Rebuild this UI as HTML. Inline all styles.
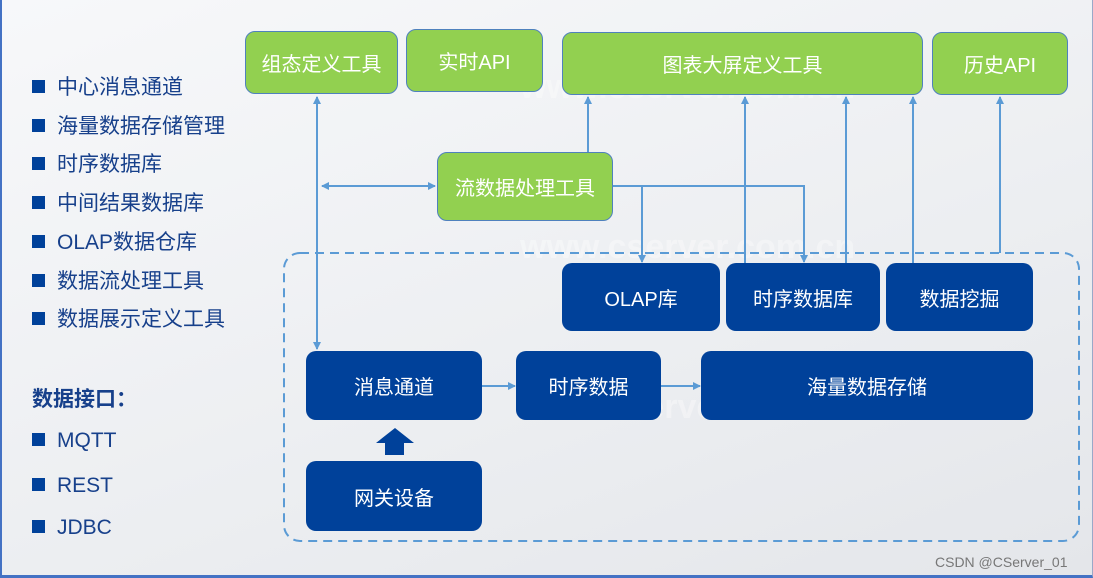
<!DOCTYPE html>
<html><head><meta charset="utf-8"><style>
*{margin:0;padding:0;box-sizing:border-box}
body{width:1093px;height:578px;overflow:hidden;position:relative;font-family:"Liberation Sans","Noto Sans CJK SC",sans-serif;background:linear-gradient(160deg,#f7f8fa 0%,#eceef1 60%,#e4e6ea 100%)}
.frame{position:absolute;left:0;top:0;width:1093px;height:578px;border-left:2px solid #4472c4;border-bottom:3px solid #4472c4;border-right:1px solid #9aa8c8}
.g{position:absolute;background:#92d050;border:1px solid #4f81bd;border-radius:10px;color:#fff;font-size:20px;display:flex;align-items:center;justify-content:center}
.b{position:absolute;background:#00419a;border-radius:10px;color:#fff;font-size:20px;display:flex;align-items:center;justify-content:center}
.li{position:absolute;left:32px;color:#17408b;font-size:21px;line-height:24px}
.li i{display:inline-block;width:13px;height:13px;background:#00419a;margin-right:12px;vertical-align:1px}
.wm{position:absolute;color:rgba(255,255,255,.35);font-weight:bold;font-size:34px;white-space:nowrap}
</style></head><body>
<div class="frame"></div>
<div class="wm" style="left:520px;top:68px">www.cserver.com.cn</div>
<div class="wm" style="left:520px;top:228px">www.cserver.com.cn</div>
<div class="wm" style="left:520px;top:388px">www.cserver.com.cn</div>

<div class="li" style="top:76px"><i></i>中心消息通道</div>
<div class="li" style="top:115px"><i></i>海量数据存储管理</div>
<div class="li" style="top:153px"><i></i>时序数据库</div>
<div class="li" style="top:192px"><i></i>中间结果数据库</div>
<div class="li" style="top:231px"><i></i>OLAP数据仓库</div>
<div class="li" style="top:270px"><i></i>数据流处理工具</div>
<div class="li" style="top:308px"><i></i>数据展示定义工具</div>
<div class="li" style="top:388px;font-weight:bold">数据接口：</div>
<div class="li" style="top:429px"><i></i>MQTT</div>
<div class="li" style="top:474px"><i></i>REST</div>
<div class="li" style="top:516px"><i></i>JDBC</div>

<svg style="position:absolute;left:0;top:0" width="1093" height="578">
<defs><marker id="a" markerWidth="8" markerHeight="8" refX="7" refY="4" orient="auto" markerUnits="userSpaceOnUse"><path d="M0,0 L8,4 L0,8z" fill="#5b9bd5"/></marker></defs>
<rect x="284" y="253" width="795" height="288" rx="16" fill="none" stroke="#5b9bd5" stroke-width="2" stroke-dasharray="9,6"/>
<g stroke="#5b9bd5" stroke-width="2" fill="none">
<line x1="317" y1="186" x2="317" y2="97" marker-end="url(#a)"/>
<line x1="317" y1="186" x2="317" y2="349" marker-end="url(#a)"/>
<line x1="376" y1="186" x2="322" y2="186" marker-end="url(#a)"/>
<line x1="376" y1="186" x2="435" y2="186" marker-end="url(#a)"/>
<line x1="588" y1="152" x2="588" y2="97" marker-end="url(#a)"/>
<polyline points="613,186 804,186 804,262" marker-end="url(#a)"/>
<line x1="642" y1="186" x2="642" y2="262" marker-end="url(#a)"/>
<line x1="745" y1="263" x2="745" y2="97" marker-end="url(#a)"/>
<line x1="846" y1="263" x2="846" y2="97" marker-end="url(#a)"/>
<line x1="913" y1="263" x2="913" y2="97" marker-end="url(#a)"/>
<line x1="1000" y1="253" x2="1000" y2="97" marker-end="url(#a)"/>
<line x1="482" y1="386" x2="515" y2="386" marker-end="url(#a)"/>
<line x1="661" y1="386" x2="700" y2="386" marker-end="url(#a)"/>
</g>
<path d="M395,428 L414,443 L404,443 L404,455 L385,455 L385,443 L376,443z" fill="#00419a"/>
<text x="935" y="567" font-size="14" fill="#777" font-family="Liberation Sans, sans-serif">CSDN @CServer_01</text>
</svg>

<div class="g" style="left:245px;top:31px;width:153px;height:63px">组态定义工具</div>
<div class="g" style="left:406px;top:29px;width:137px;height:63px">实时API</div>
<div class="g" style="left:562px;top:32px;width:361px;height:63px">图表大屏定义工具</div>
<div class="g" style="left:932px;top:32px;width:136px;height:63px">历史API</div>
<div class="g" style="left:437px;top:152px;width:176px;height:69px">流数据处理工具</div>

<div class="b" style="left:562px;top:263px;width:158px;height:68px">OLAP库</div>
<div class="b" style="left:726px;top:263px;width:154px;height:68px">时序数据库</div>
<div class="b" style="left:886px;top:263px;width:147px;height:68px">数据挖掘</div>
<div class="b" style="left:306px;top:351px;width:176px;height:69px">消息通道</div>
<div class="b" style="left:516px;top:351px;width:145px;height:69px">时序数据</div>
<div class="b" style="left:701px;top:351px;width:332px;height:69px">海量数据存储</div>
<div class="b" style="left:306px;top:461px;width:176px;height:70px">网关设备</div>
</body></html>
